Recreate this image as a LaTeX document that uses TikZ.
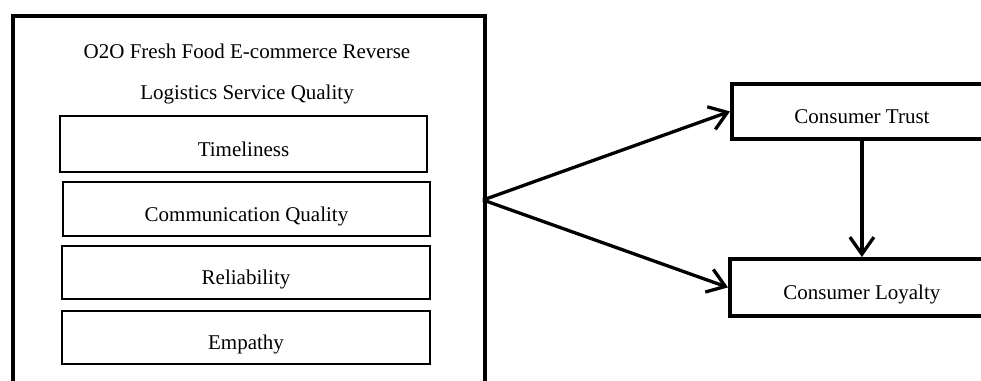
\documentclass[tikz,border=0pt]{standalone}
\usepackage{fontspec}
\setmainfont{Liberation Serif}
\usetikzlibrary{arrows.meta}
\tikzset{
  lbl/.style={font=\fontsize{21}{25}\selectfont, text height=24pt, text depth=0pt},
  outerbox/.style={draw, line width=3.8pt, anchor=north west, inner sep=0pt},
  innerbox/.style={lbl, draw, line width=2pt, anchor=north west, inner sep=0pt, minimum height=56pt, minimum width=367pt},
  rightbox/.style={lbl, draw, line width=3.8pt, anchor=north west, inner sep=0pt, minimum height=55pt},
  title/.style={font=\fontsize{21}{25}\selectfont, inner sep=0pt, anchor=base},
  conn/.style={line width=3.3pt, -{Straight Barb[length=17pt,width=24pt,line width=3.3pt]}}
}
\begin{document}
\begin{tikzpicture}[x=1pt,y=-1pt]
\useasboundingbox (0,0) rectangle (981,380);
\clip (0,0) rectangle (981,380);
\node[outerbox, minimum width=472pt, minimum height=420pt] (lsq) at (11,14) {};
\node[title] (t1) at (247,58) {O2O Fresh Food E-commerce Reverse};
\node[title] (t2) at (247,99) {Logistics Service Quality};
\node[innerbox] (tim) at (59,115) {Timeliness};
\node[innerbox, minimum height=54pt] (com) at (62,181) {Communication Quality};
\node[innerbox, minimum height=53pt, minimum width=368pt] (rel) at (61,245) {Reliability};
\node[innerbox, minimum height=53pt, minimum width=368pt] (emp) at (61,310) {Empathy};
\coordinate (src) at (483,200);
\node[rightbox, minimum width=260pt] (trust) at (730,82) {Consumer Trust};
\node[rightbox, minimum width=264pt, minimum height=57pt] (loy) at (728,257) {Consumer Loyalty};
\draw[conn] (src) -- (trust.west);
\draw[conn] (src) -- (loy.west);
\draw[conn] (trust.south) -- (loy.north);
\end{tikzpicture}
\end{document}
